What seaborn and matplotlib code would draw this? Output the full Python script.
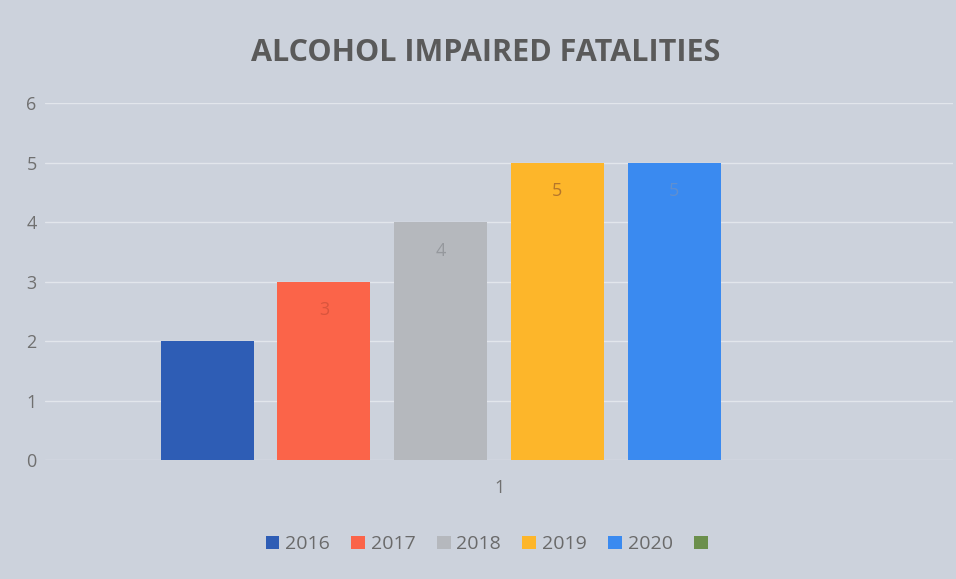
import matplotlib
matplotlib.use('Agg')

import matplotlib.pyplot as plt
from matplotlib.patches import Patch
import seaborn as sns
import pandas as pd

# data
categories = ["1"]
years = ["2016", "2017", "2018", "2019", "2020", ""]
values = [2, 3, 4, 5, 5, 0]
bar_colors = ["#2e5db5", "#fb6449", "#b5b8bd", "#fdb62a", "#3a8af0", "#6b8f4c"]
label_colors = ["#2e5db5", "#d9553d", "#95989d", "#b5762a", "#5f8fd0", "#6b8f4c"]

BG = "#ccd2dc"

df = pd.DataFrame({"cat": categories * len(years), "year": years, "value": values})

sns.set_style("white")
plt.rcParams['font.family'] = ['Open Sans', 'DejaVu Sans']

fig = plt.figure(figsize=(9.56, 5.79), dpi=100, facecolor=BG)
ax = fig.add_axes([0.047, 0.2055, 0.950, 0.6165], facecolor=BG)

sns.barplot(data=df, x="cat", y="value", hue="year", hue_order=years,
            palette=bar_colors, saturation=1, width=0.771, gap=0.203,
            linewidth=0, legend=False, ax=ax)

# value labels inside bars, near the top
for cont, yr, col in zip(ax.containers, years, label_colors):
    if yr == "":
        continue
    ax.bar_label(cont, padding=-27, color=col, fontsize=13)

ax.set_xlim(-0.5, 0.5)
ax.set_ylim(0, 6)
ax.set_yticks(range(0, 7))
ax.yaxis.grid(True, color="#e2e6ec", linewidth=1)
ax.set_axisbelow(True)
for s in ax.spines.values():
    s.set_visible(False)
ax.tick_params(axis='both', length=0, colors="#707070", labelsize=13)
ax.tick_params(axis='y', pad=6)
ax.tick_params(axis='x', pad=14)
ax.set_xlabel("")
ax.set_ylabel("")

fig.suptitle("ALCOHOL IMPAIRED FATALITIES", x=0.508, y=0.935,
             fontsize=22, fontweight='bold', color="#5a5a5a")

handles = [Patch(facecolor=c, edgecolor='none') for c in bar_colors]
fig.legend(handles, years, loc='center', bbox_to_anchor=(0.512, 0.06), ncol=6,
           frameon=False, fontsize=14, labelcolor="#6a6a6a",
           handlelength=0.7, handleheight=0.7, handletextpad=0.3, columnspacing=1.1)

plt.savefig("out.png", dpi=100, facecolor=BG)
